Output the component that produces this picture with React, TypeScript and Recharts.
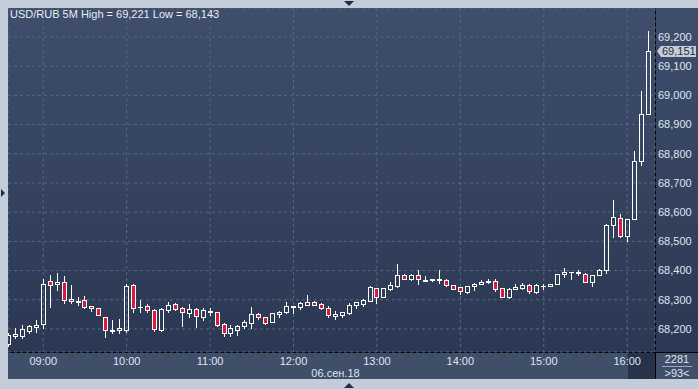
import { Bar, CartesianGrid, ComposedChart, ReferenceLine, XAxis, YAxis } from 'recharts';

// 5-minute candles, 08:35 .. 16:15
const opens = [
  68.150, 68.175, 68.177, 68.192, 68.206, 68.216, 68.363, 68.353, 68.360, 68.303,
  68.291, 68.299, 68.279, 68.271, 68.241, 68.193, 68.196, 68.196, 68.351, 68.275,
  68.279, 68.265, 68.197, 68.266, 68.285, 68.272, 68.256, 68.267, 68.242, 68.257,
  68.257, 68.216, 68.186, 68.198, 68.209, 68.221, 68.251, 68.240, 68.225, 68.251,
  68.257, 68.277, 68.277, 68.283, 68.291, 68.286, 68.272, 68.246, 68.249, 68.256,
  68.281, 68.287, 68.297, 68.340, 68.311, 68.338, 68.348, 68.385, 68.372, 68.385,
  68.366, 68.369, 68.367, 68.368, 68.350, 68.343, 68.327, 68.347, 68.353, 68.361,
  68.365, 68.340, 68.311, 68.336, 68.339, 68.350, 68.328, 68.346, 68.348, 68.353,
  68.388, 68.395, 68.391, 68.389, 68.361, 68.384, 68.402, 68.555, 68.581, 68.520,
  68.575, 68.774, 68.935,
];
const highs = [
  68.185, 68.202, 68.213, 68.214, 68.231, 68.371, 68.385, 68.392, 68.383, 68.351,
  68.309, 68.314, 68.279, 68.271, 68.241, 68.230, 68.234, 68.355, 68.353, 68.299,
  68.285, 68.268, 68.271, 68.292, 68.290, 68.276, 68.286, 68.273, 68.271, 68.273,
  68.257, 68.220, 68.213, 68.214, 68.230, 68.274, 68.255, 68.240, 68.255, 68.263,
  68.292, 68.279, 68.294, 68.316, 68.296, 68.288, 68.279, 68.262, 68.257, 68.290,
  68.292, 68.302, 68.347, 68.341, 68.340, 68.361, 68.423, 68.388, 68.388, 68.402,
  68.383, 68.370, 68.402, 68.370, 68.351, 68.345, 68.347, 68.357, 68.368, 68.371,
  68.370, 68.341, 68.341, 68.353, 68.357, 68.353, 68.353, 68.354, 68.353, 68.389,
  68.409, 68.396, 68.401, 68.392, 68.386, 68.406, 68.560, 68.642, 68.593, 68.575,
  68.809, 69.015, 69.221,
];
const lows = [
  68.143, 68.168, 68.168, 68.185, 68.189, 68.204, 68.276, 68.334, 68.290, 68.290,
  68.282, 68.271, 68.263, 68.247, 68.174, 68.187, 68.185, 68.189, 68.259, 68.259,
  68.257, 68.194, 68.194, 68.259, 68.266, 68.211, 68.242, 68.208, 68.231, 68.248,
  68.211, 68.177, 68.177, 68.179, 68.204, 68.203, 68.233, 68.217, 68.223, 68.241,
  68.256, 68.256, 68.268, 68.283, 68.282, 68.268, 68.241, 68.235, 68.241, 68.251,
  68.273, 68.279, 68.297, 68.290, 68.311, 68.335, 68.345, 68.370, 68.368, 68.355,
  68.365, 68.365, 68.357, 68.347, 68.336, 68.320, 68.324, 68.334, 68.353, 68.359,
  68.331, 68.309, 68.306, 68.336, 68.337, 68.324, 68.324, 68.336, 68.346, 68.353,
  68.379, 68.370, 68.385, 68.362, 68.348, 68.384, 68.393, 68.516, 68.516, 68.503,
  68.575, 68.762, 68.935,
];
const closes = [
  68.180, 68.183, 68.200, 68.210, 68.214, 68.353, 68.350, 68.361, 68.298, 68.295,
  68.296, 68.274, 68.272, 68.247, 68.197, 68.196, 68.203, 68.346, 68.273, 68.277,
  68.264, 68.199, 68.267, 68.281, 68.270, 68.257, 68.268, 68.243, 68.265, 68.262,
  68.215, 68.187, 68.203, 68.209, 68.224, 68.250, 68.240, 68.222, 68.255, 68.259,
  68.279, 68.279, 68.288, 68.291, 68.283, 68.271, 68.249, 68.250, 68.257, 68.282,
  68.292, 68.299, 68.344, 68.311, 68.340, 68.350, 68.385, 68.370, 68.385, 68.370,
  68.367, 68.370, 68.370, 68.350, 68.338, 68.331, 68.347, 68.354, 68.361, 68.365,
  68.338, 68.311, 68.337, 68.344, 68.350, 68.329, 68.350, 68.348, 68.353, 68.387,
  68.395, 68.396, 68.396, 68.362, 68.384, 68.401, 68.555, 68.583, 68.520, 68.575,
  68.774, 68.935, 69.151,
];

const hourTicks = [5, 17, 29, 41, 53, 65, 77, 89];
const hourLabels = ['09:00', '10:00', '11:00', '12:00', '13:00', '14:00', '15:00', '16:00'];
const priceTicks = [68.2, 68.3, 68.4, 68.5, 68.6, 68.7, 68.8, 68.9, 69.0, 69.1, 69.2];
const dateLabel = '06.сен.18';
const title = 'USD/RUB 5M High = 69,221 Low = 68,143';
const totalBars = '2281';
const shownBars = '>93<';

const FONT = "'Liberation Sans Narrow', 'Arial Narrow', 'Liberation Sans', Arial, sans-serif";
const TEXT = '#dfe6f2';

const data = opens.map((o, k) => ({
  k,
  o,
  h: highs[k],
  l: lows[k],
  c: closes[k],
  range: [lows[k], highs[k]],
}));
const lastClose = closes[closes.length - 1];

const fmt = (v: number) => v.toFixed(3).replace('.', ',');

function Candle(props: any) {
  const { x, y, width, height, payload } = props;
  if (x == null || !payload) return null;
  const { o, h, l, c } = payload;
  const top = Math.min(y, y + height);
  const span = Math.abs(height);
  const toY = (v: number) => (h === l ? top : top + ((h - v) / (h - l)) * span);
  const col = Math.floor(x + width / 2);
  const cx = col + 0.5;
  const up = c >= o;
  const bTop = Math.round(toY(Math.max(o, c))) + 0.5;
  const bBot = Math.round(toY(Math.min(o, c))) + 0.5;
  const wTop = Math.round(toY(h));
  const wBot = Math.round(toY(l)) + 1;
  return (
    <g>
      {wTop < bTop - 0.5 && <line x1={cx} x2={cx} y1={wTop} y2={bTop} stroke="#fff" />}
      {wBot > bBot + 0.5 && <line x1={cx} x2={cx} y1={bBot} y2={wBot} stroke="#fff" />}
      {bBot - bTop < 1 ? (
        <line x1={col - 2} x2={col + 3} y1={bTop} y2={bTop} stroke="#fff" />
      ) : (
        <rect
          x={col - 1.5}
          y={bTop}
          width={4}
          height={bBot - bTop}
          fill={up ? 'none' : '#e0163e'}
          stroke="#fff"
        />
      )}
    </g>
  );
}

function PriceTag(props: any) {
  const { viewBox } = props;
  if (!viewBox) return null;
  const x = viewBox.x + viewBox.width;
  const y = Math.round(viewBox.y);
  return (
    <g>
      <polygon
        points={`${x + 2},${y} ${x + 6},${y - 5} ${x + 41},${y - 5} ${x + 41},${y + 6} ${x + 6},${y + 6}`}
        fill="#c8cdd5"
      />
      <text x={x + 7} y={y} dy="0.36em" fontSize={11} fontFamily={FONT} fill="#1c2b48">
        {fmt(lastClose)}
      </text>
    </g>
  );
}

export default function App() {
  return (
    <div style={{ position: 'relative', width: 698, height: 389, background: '#c3cdd9', overflow: 'hidden', fontFamily: FONT }}>
      <style>{'body{margin:0}'}</style>
      <div style={{ position: 'absolute', left: 8, top: 8, width: 690, height: 344, background: 'linear-gradient(#3e4e6b, #2b3853)' }} />
      <div style={{ position: 'absolute', left: 8, top: 352, width: 690, height: 27, background: '#3f4e69', borderTop: '1px solid #000', boxSizing: 'border-box' }} />
      <div style={{ position: 'absolute', left: 628, top: 353, width: 27, height: 26, background: '#27324b' }} />
      <div style={{ position: 'absolute', left: 655, top: 8, width: 1, height: 371, background: '#000' }} />

      <div style={{ position: 'absolute', left: 8, top: 8 }}>
        <ComposedChart width={690} height={371} data={data} margin={{ top: 0, right: 0, bottom: 0, left: 0 }}>
          <CartesianGrid stroke="#566887" strokeDasharray="3 3" />
          <XAxis
            dataKey="k"
            type="number"
            domain={[-0.072, 93]}
            allowDataOverflow
            ticks={hourTicks}
            tickFormatter={(v: number) => hourLabels[hourTicks.indexOf(v)] ?? ''}
            height={27}
            axisLine={false}
            tickLine={false}
            tickSize={0}
            tickMargin={5}
            tick={{ fill: TEXT, fontSize: 11, fontFamily: FONT }}
            label={{ value: dateLabel, position: 'insideBottom', offset: 2, dx: 4, fill: TEXT, fontSize: 11, fontFamily: FONT }}
          />
          <YAxis
            orientation="right"
            type="number"
            domain={[68.1212, 69.2993]}
            allowDataOverflow
            ticks={priceTicks}
            tickFormatter={(v: number) => fmt(v)}
            width={43}
            axisLine={false}
            tickLine={false}
            tickSize={0}
            tickMargin={3}
            tick={{ fill: TEXT, fontSize: 11, fontFamily: FONT, textAnchor: 'start' }}
          />
          <Bar dataKey="range" barSize={5} shape={<Candle />} isAnimationActive={false} />
          <ReferenceLine y={lastClose} stroke="none" label={<PriceTag />} />
        </ComposedChart>
      </div>

      <div style={{ position: 'absolute', left: 10, top: 8, fontSize: 11, lineHeight: '13px', color: '#e8edf5', whiteSpace: 'nowrap' }}>{title}</div>

      <div style={{ position: 'absolute', left: 657, top: 354, width: 40, textAlign: 'center', fontSize: 11, lineHeight: '11px', color: TEXT }}>
        <div style={{ borderBottom: '1px solid #9aa6ba', margin: '0 5px', paddingBottom: 1 }}>{totalBars}</div>
        <div style={{ paddingTop: 1 }}>{shownBars}</div>
      </div>

      <div style={{ position: 'absolute', left: 344, top: 1, width: 0, height: 0, borderLeft: '5px solid transparent', borderRight: '5px solid transparent', borderTop: '5px solid #1f2d47' }} />
      <div style={{ position: 'absolute', left: 344, top: 383, width: 0, height: 0, borderLeft: '5px solid transparent', borderRight: '5px solid transparent', borderBottom: '5px solid #1f2d47' }} />
      <div style={{ position: 'absolute', left: 1, top: 189, width: 0, height: 0, borderTop: '4px solid transparent', borderBottom: '4px solid transparent', borderLeft: '4px solid #1f2d47' }} />
    </div>
  );
}
